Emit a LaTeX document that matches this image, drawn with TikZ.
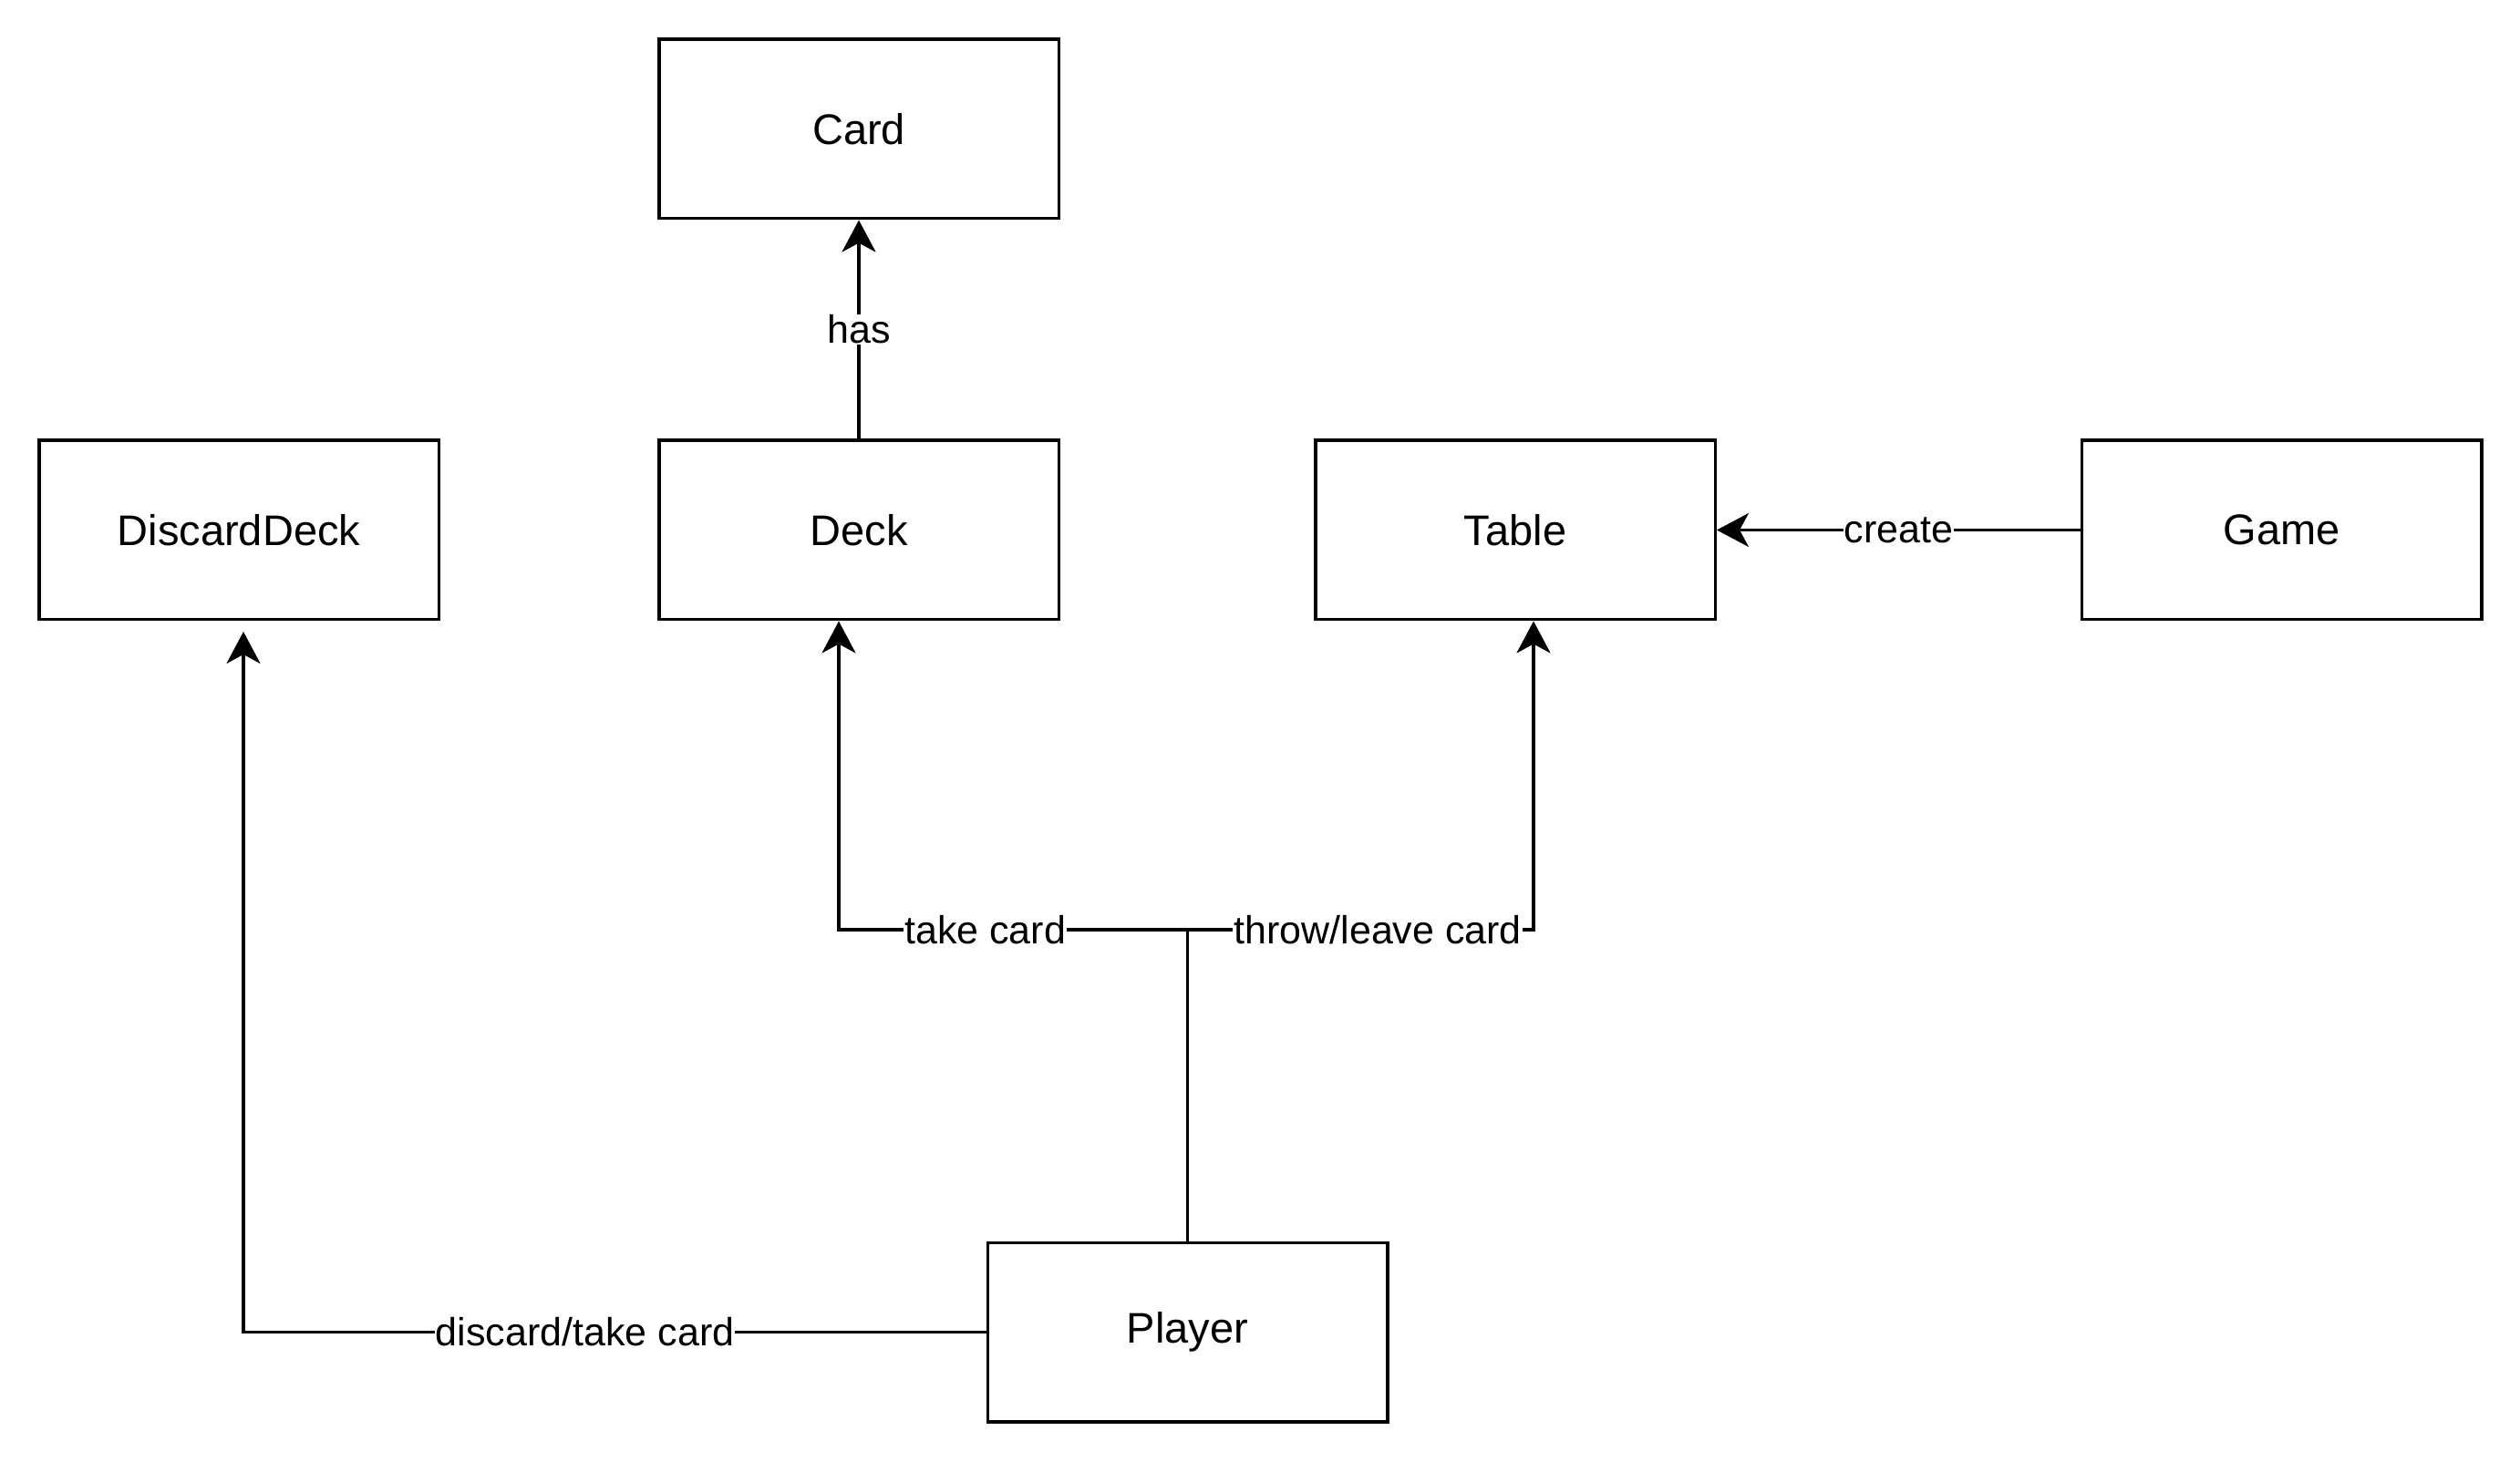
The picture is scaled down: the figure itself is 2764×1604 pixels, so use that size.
\documentclass[tikz,border=0pt]{standalone}
\usepackage{fontspec}
\setmainfont{Liberation Sans}
\usetikzlibrary{arrows.meta}
\begin{document}
\begin{tikzpicture}[x=0.5pt,y=-0.5pt,
  box/.style={draw=black,line width=1.75pt,minimum width=219.25pt,minimum height=98.25pt,inner sep=0pt,font=\fontsize{23.5}{28}\selectfont},
  conn/.style={line width=1.75pt,-{Stealth[length=17.5pt,width=18.5pt,inset=5pt]}},
  lbl/.style={fill=white,inner sep=0.5pt,font=\fontsize{21.5}{26}\selectfont}]
\useasboundingbox (0,0) rectangle (2764,1604);
\node[box] (card) at (942,141.5) {Card};
\node[box] (deck) at (942,581.5) {Deck};
\node[box] (discard) at (262,581.5) {DiscardDeck};
\node[box] (table) at (1662,581.5) {Table};
\node[box] (game) at (2502.5,581.5) {Game};
\node[box] (player) at (1302.5,1461.5) {Player};
\coordinate (j) at (1302.5,1020);
\coordinate (tk) at (920,1020);
\coordinate (tl) at (1682,1020);
\coordinate (dd) at (267,1461.5);
\coordinate (ddt) at (267,693);
\draw[conn] (deck.north) -- node[lbl,pos=0.5] {has} (card.south);
\draw[conn] (game.west) -- node[lbl,pos=0.5] {create} (table.east);
\draw[conn] (player.north) -- (j) -- node[lbl,pos=0.58] {take card} (tk) -- (tk |- deck.south);
\draw[conn] (j) -- node[lbl,pos=0.55] {throw/leave card} (tl) -- (tl |- table.south);
\draw[conn] (player.west) -- node[lbl,pos=0.54] {discard/take card} (dd) -- (ddt);
\end{tikzpicture}
\end{document}
